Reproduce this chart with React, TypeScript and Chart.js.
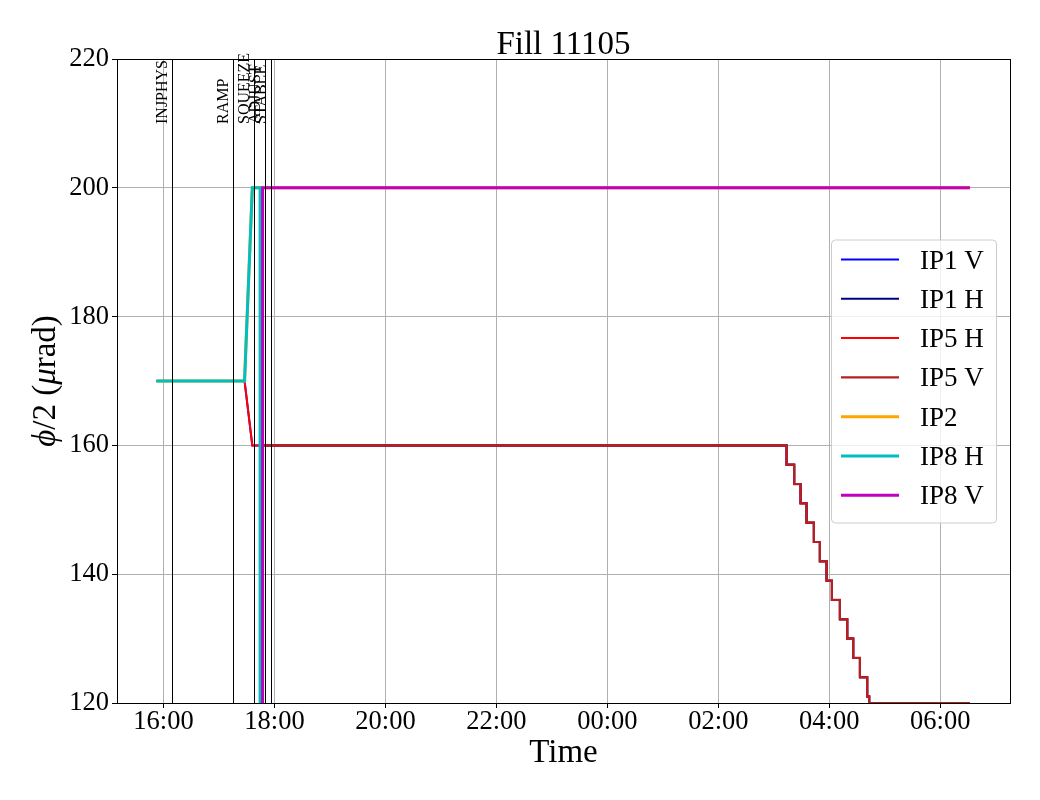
import React, { useEffect, useRef } from 'react';
import { Chart, registerables } from 'chart.js';

Chart.register(...registerables);

const TITLE = 'Fill 11105';
const X_LABEL = 'Time';
const FONT = '"Liberation Serif", "Times New Roman", serif';

// x values are hours since 16:00 of the first day
const xTickValues = [0, 2, 4, 6, 8, 10, 12, 14];
const xTickLabels = ['16:00', '18:00', '20:00', '22:00', '00:00', '02:00', '04:00', '06:00'];
const xMin = -0.839;
const xMax = 15.257;
const yMin = 120;
const yMax = 220;
const yStep = 20;

const eventNames = ['INJPHYS', 'RAMP', 'SQUEEZE', 'ADJUST', 'STABLE'];
const eventTimes = [0.15, 1.255, 1.636, 1.834, 1.939];

const seriesNames = ['IP1 V', 'IP1 H', 'IP5 H', 'IP5 V', 'IP2', 'IP8 H', 'IP8 V'];
const seriesColors = ['#0000ff', '#000080', '#ff0000', '#b22222', '#ffa500', '#00bfbf', '#bf00bf'];
const seriesWidths = [2, 2, 2, 2.2, 3, 3, 3];

const tEnd = 14.535;

// luminosity levelling steps (shared by IP1 and IP5)
const levelTimes = [11.23, 11.367, 11.482, 11.59, 11.722, 11.83, 11.951, 12.047, 12.191, 12.323, 12.431, 12.552, 12.683, 12.719];
const levelValues = [157, 154, 151, 148, 145, 142, 139, 136, 133, 130, 127, 124, 121, 120];

const ip1vTimes = [-0.13, 1.46, 1.6];
const ip1vValues = [170, 170, 160];
const ip1hTimes = [-0.13, 1.785, 1.785];
const ip1hValues = [-170, -170, 160];
const ip5hTimes = [-0.13, 1.46, 1.6];
const ip5hValues = [170, 170, 160];
const ip5vTimes = [-0.13, 1.785, 1.785];
const ip5vValues = [-170, -170, 160];
const ip2Times = [-0.13, 1.46, 1.6, 14.535];
const ip2Values = [170, 170, 200, 200];
const ip8hTimes = [-0.13, 1.46, 1.6, 1.74, 1.74, 14.535];
const ip8hValues = [170, 170, 200, 200, -200, -200];
const ip8vTimes = [-0.13, 1.785, 1.785, 14.535];
const ip8vValues = [-170, -170, 200, 200];

type Pt = { x: number; y: number };
const pts = (ts: number[], vs: number[]): Pt[] => ts.map((t, i) => ({ x: t, y: vs[i] }));
const withLevelling = (ts: number[], vs: number[]): Pt[] => {
  const out = pts(ts, vs);
  let prev = vs[vs.length - 1];
  levelTimes.forEach((t, i) => {
    out.push({ x: t, y: prev });
    out.push({ x: t, y: levelValues[i] });
    prev = levelValues[i];
  });
  out.push({ x: tEnd, y: prev });
  return out;
};

const seriesData: Pt[][] = [
  withLevelling(ip1vTimes, ip1vValues),
  withLevelling(ip1hTimes, ip1hValues),
  withLevelling(ip5hTimes, ip5hValues),
  withLevelling(ip5vTimes, ip5vValues),
  pts(ip2Times, ip2Values),
  pts(ip8hTimes, ip8hValues),
  pts(ip8vTimes, ip8vValues),
];

const decorPlugin = {
  id: 'decor',
  afterDatasetsDraw(chart: any) {
    const { ctx, chartArea: ca, scales } = chart;
    const x = scales.x;
    ctx.save();
    // event lines
    ctx.strokeStyle = '#000';
    ctx.lineWidth = 1;
    eventTimes.forEach((t) => {
      const px = Math.round(x.getPixelForValue(t)) + 0.5;
      ctx.beginPath();
      ctx.moveTo(px, ca.top);
      ctx.lineTo(px, ca.bottom);
      ctx.stroke();
    });
    // event labels
    ctx.fillStyle = '#000';
    ctx.font = `16px ${FONT}`;
    ctx.textAlign = 'left';
    ctx.textBaseline = 'alphabetic';
    eventTimes.forEach((t, i) => {
      const px = x.getPixelForValue(t);
      ctx.save();
      ctx.translate(px - 5, ca.top + 65);
      ctx.rotate(-Math.PI / 2);
      ctx.fillText(eventNames[i], 0, 0);
      ctx.restore();
    });
    // frame
    ctx.strokeStyle = '#000';
    ctx.lineWidth = 1;
    const l = Math.round(ca.left) + 0.5;
    const t = Math.round(ca.top) + 0.5;
    const r = Math.round(ca.right) + 0.5;
    const b = Math.round(ca.bottom) + 0.5;
    ctx.strokeRect(l, t, r - l, b - t);
    ctx.restore();
  },
  afterDraw(chart: any) {
    const { ctx, chartArea: ca } = chart;
    const cx = (ca.left + ca.right) / 2;
    const cy = (ca.top + ca.bottom) / 2;
    ctx.save();
    ctx.fillStyle = '#000';
    // title
    ctx.font = `33px ${FONT}`;
    ctx.textAlign = 'center';
    ctx.textBaseline = 'alphabetic';
    ctx.fillText(TITLE, cx, ca.top - 5);
    // x label
    ctx.fillText(X_LABEL, cx, ca.bottom + 59);
    // y label with italic math symbols
    const pieces: [string, boolean][] = [['\u03d5', true], ['/2 (', false], ['\u03bc', true], ['rad)', false]];
    const fontFor = (it: boolean) => `${it ? 'italic ' : ''}33px ${FONT}`;
    let total = 0;
    pieces.forEach(([s, it]) => {
      ctx.font = fontFor(it);
      total += ctx.measureText(s).width;
    });
    ctx.translate(55, cy);
    ctx.rotate(-Math.PI / 2);
    ctx.textAlign = 'left';
    let pos = -total / 2;
    pieces.forEach(([s, it]) => {
      ctx.font = fontFor(it);
      ctx.fillText(s, pos, 0);
      pos += ctx.measureText(s).width;
    });
    ctx.restore();

    // legend
    ctx.save();
    const w = 165;
    const h = 283;
    const bx = ca.right - 14 - w;
    const by = cy - h / 2;
    ctx.beginPath();
    (ctx as any).roundRect(bx + 0.5, by + 0.5, w, h, 4);
    ctx.fillStyle = 'rgba(255,255,255,0.8)';
    ctx.fill();
    ctx.strokeStyle = '#cccccc';
    ctx.lineWidth = 1;
    ctx.stroke();
    ctx.font = `27px ${FONT}`;
    ctx.textAlign = 'left';
    ctx.textBaseline = 'alphabetic';
    seriesNames.forEach((name, i) => {
      const ry = by + 20 + i * 39.3;
      ctx.strokeStyle = seriesColors[i];
      ctx.lineWidth = seriesWidths[i];
      ctx.beginPath();
      ctx.moveTo(bx + 10, ry);
      ctx.lineTo(bx + 68, ry);
      ctx.stroke();
      ctx.fillStyle = '#000';
      ctx.fillText(name, bx + 89, ry + 9);
    });
    ctx.restore();
  },
};

export default function App() {
  const ref = useRef<HTMLCanvasElement>(null);
  useEffect(() => {
    const chart = new Chart(ref.current as HTMLCanvasElement, {
      type: 'line',
      data: {
        datasets: seriesNames.map((name, i) => ({
          label: name,
          data: seriesData[i],
          borderColor: seriesColors[i],
          backgroundColor: seriesColors[i],
          borderWidth: seriesWidths[i],
          pointRadius: 0,
          fill: false,
          tension: 0,
          order: seriesNames.length - i,
        })),
      },
      options: {
        responsive: false,
        devicePixelRatio: 1,
        animation: false,
        events: [],
        layout: { padding: { top: 59, left: 0, right: 30, bottom: 0 } },
        plugins: {
          legend: { display: false },
          title: { display: false },
          tooltip: { enabled: false },
        },
        scales: {
          x: {
            type: 'linear',
            min: xMin,
            max: xMax,
            afterBuildTicks: (scale: any) => {
              scale.ticks = xTickValues.map((v) => ({ value: v }));
            },
            afterFit: (scale: any) => {
              scale.height = 97;
            },
            ticks: {
              autoSkip: false,
              maxRotation: 0,
              padding: 1,
              color: '#000',
              font: { family: FONT, size: 26.5, lineHeight: 1 },
              callback: (v: any) => {
                const idx = xTickValues.indexOf(Number(v));
                return idx >= 0 ? xTickLabels[idx] : '';
              },
            },
            grid: { color: '#b0b0b0', lineWidth: 1, tickColor: '#000', tickLength: 5, tickWidth: 1 },
            border: { color: '#000', width: 1 },
          },
          y: {
            type: 'linear',
            min: yMin,
            max: yMax,
            afterFit: (scale: any) => {
              scale.width = 117;
            },
            ticks: {
              stepSize: yStep,
              padding: 3,
              color: '#000',
              font: { family: FONT, size: 26.5, lineHeight: 1 },
            },
            grid: { color: '#b0b0b0', lineWidth: 1, tickColor: '#000', tickLength: 5, tickWidth: 1 },
            border: { color: '#000', width: 1 },
          },
        },
      } as any,
      plugins: [decorPlugin],
    });
    return () => chart.destroy();
  }, []);
  return (
    <div style={{ position: 'absolute', left: 0, top: 0, width: 1040, height: 800, background: '#fff' }}>
      <canvas ref={ref} width={1040} height={800} style={{ display: 'block', width: 1040, height: 800 }} />
    </div>
  );
}
